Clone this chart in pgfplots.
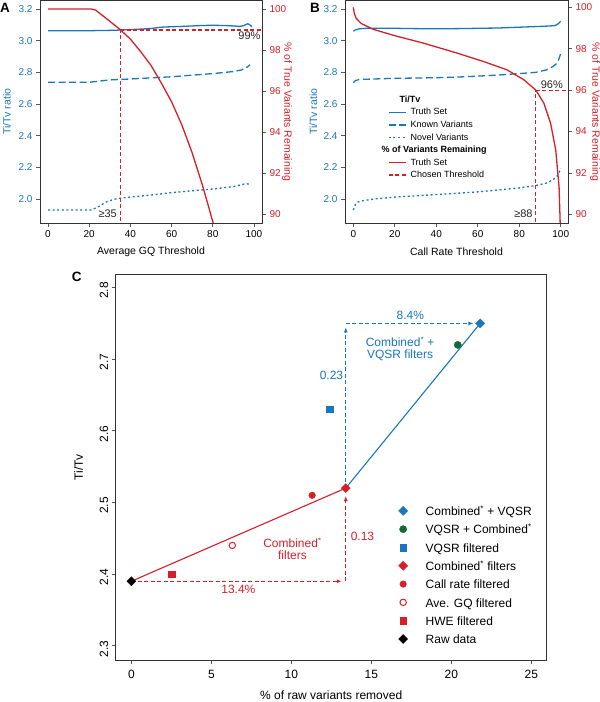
\documentclass[border=0pt]{standalone}
\usepackage{fontspec}
\setmainfont{Liberation Sans}
\usepackage{pgfplots}
\pgfplotsset{compat=1.18}
\usetikzlibrary{arrows.meta}
\definecolor{myblue}{RGB}{26,118,190}
\definecolor{myred}{RGB}{214,32,40}
\definecolor{mygreen}{RGB}{22,104,52}
\newcommand{\fs}[1]{\fontsize{#1}{#1}\selectfont}
\newcommand{\sast}{\textsuperscript{*}}
\pgfplotsset{
  panel/.style={scale only axis, anchor=south west,
    tick align=outside, major tick length=4pt,
    axis line style={black!80, line width=0.7pt},
    tick style={black!65, line width=0.7pt},
    /pgf/number format/assume math mode=true},
  tt/.style={myblue, line width=1.3pt},
  kv/.style={myblue, line width=1.3pt, dash pattern=on 7pt off 3.5pt},
  nv/.style={myblue, line width=1.3pt, dash pattern=on 2pt off 2.6pt},
  rt/.style={myred, line width=1.3pt},
  thr/.style={myred, line width=1.2pt, dash pattern=on 4pt off 2.5pt},
  arr/.style={line width=1.1pt, dash pattern=on 4pt off 2.5pt, -{Latex[length=5pt,width=4pt]}},
}
\begin{document}
\begin{tikzpicture}[x=1pt,y=1pt]
\useasboundingbox (0,0) rectangle (600,702);

% ================= Panel A =================
\begin{axis}[panel, at={(40pt,479pt)}, width=222pt, height=222.5pt,
  xmin=-3.9, xmax=103.9, ymin=1.8484, ymax=3.2537,
  tick pos=left,
  xtick={0,20,40,60,80,100}, ytick={2,2.2,2.4,2.6,2.8,3,3.2},
  xticklabel style={font=\fs{10}},
  xlabel={Average GQ Threshold},
  xlabel style={font=\fs{10.5}, at={(axis description cs:0.5,-0.129)}, anchor=center},
  ylabel={Ti/Tv ratio},
  ylabel style={font=\fs{10.5}, text=myblue, at={(axis description cs:-0.149,0.5)}, anchor=center},
  yticklabel style={font=\fs{10}, text=myblue, /pgf/number format/.cd, fixed, fixed zerofill, precision=1},
]
\addplot[tt] coordinates {(0,3.063) (10,3.063) (20,3.063) (30,3.065) (35,3.067) (40,3.070) (45,3.073) (50,3.077) (55,3.085) (60,3.088) (65,3.090) (70,3.093) (75,3.096) (80,3.097) (85,3.096) (90,3.093) (93,3.090) (95,3.095) (97,3.107) (98,3.100) (99,3.088)};
\addplot[kv] coordinates {(0,2.737) (20,2.737) (25,2.745) (30,2.752) (35,2.755) (40,2.758) (50,2.765) (60,2.772) (70,2.782) (80,2.792) (90,2.805) (94,2.815) (97,2.835) (98,2.848)};
\addplot[nv] coordinates {(0,1.930) (21,1.930) (25,1.955) (28,1.980) (32,1.998) (35,2.005) (40,2.012) (50,2.025) (60,2.040) (70,2.052) (80,2.063) (90,2.078) (96,2.097) (98,2.093)};
\end{axis}
\begin{axis}[panel, at={(40pt,479pt)}, width=222pt, height=222.5pt,
  xmin=-3.9, xmax=103.9, ymin=89.561, ymax=100.415,
  axis y line*=right, axis x line=none,
  ytick={90,92,94,96,98,100},
  yticklabel style={font=\fs{10}, text=myred},
  ylabel={\% of True Variants Remaining},
  ylabel style={font=\fs{10.5}, text=myred, at={(axis description cs:1.113,0.5)}, anchor=center, rotate=180},
]
\addplot[rt] coordinates {(0,100) (21,100) (23,99.95) (25,99.8) (30,99.4) (35,99.0) (40,98.53) (45,97.92) (50,97.25) (55,96.39) (60,95.47) (65,94.34) (70,92.98) (75,91.4) (80,89.63) (83,88.5)};
\addplot[thr] coordinates {(35,89) (35,98.98)};
\addplot[thr] coordinates {(35,98.98) (110,98.98)};
\node[font=\fs{11}, text=black!85] at (axis cs:97.8,98.68) {99\%};
\node[font=\fs{11}, text=black!85, anchor=east, inner sep=0pt] at (axis cs:33.5,90.03) {≥35};
\end{axis}

% ================= Panel B =================
\begin{axis}[panel, at={(345pt,479pt)}, width=223pt, height=222.5pt,
  xmin=-4.0, xmax=103.5, ymin=1.8484, ymax=3.2537,
  tick pos=left,
  xtick={0,20,40,60,80,100}, ytick={2,2.2,2.4,2.6,2.8,3,3.2},
  xticklabel style={font=\fs{10}},
  xlabel={Call Rate Threshold},
  xlabel style={font=\fs{10.5}, at={(axis description cs:0.5,-0.129)}, anchor=center},
  ylabel={Ti/Tv ratio},
  ylabel style={font=\fs{10.5}, text=myblue, at={(axis description cs:-0.142,0.5)}, anchor=center},
  legend style={at={(axis description cs:0.1928,0.572)}, anchor=north west, draw=none, fill=none, inner sep=0pt, font=\fs{9}, nodes={inner sep=0pt}, row sep=4.5pt},
  legend cell align=left,
  yticklabel style={font=\fs{10}, text=myblue, /pgf/number format/.cd, fixed, fixed zerofill, precision=1},
]
\addplot[tt, forget plot] coordinates {(0,3.060) (1,3.068) (3,3.075) (6,3.078) (10,3.078) (20,3.078) (30,3.076) (40,3.075) (50,3.076) (60,3.078) (70,3.080) (80,3.085) (90,3.090) (95,3.093) (97,3.095) (98,3.100) (99,3.110) (100,3.122)};
\addplot[kv, forget plot] coordinates {(0,2.735) (1,2.748) (3,2.755) (10,2.758) (20,2.762) (30,2.764) (40,2.766) (50,2.770) (60,2.776) (70,2.783) (80,2.792) (88,2.800) (93,2.815) (96,2.835) (98,2.855) (99,2.880) (100,2.920)};
\addplot[nv, forget plot] coordinates {(0,1.930) (1,1.965) (2,1.980) (5,1.990) (10,2.000) (20,2.012) (30,2.020) (40,2.028) (50,2.036) (60,2.045) (70,2.057) (80,2.070) (88,2.085) (93,2.100) (96,2.120) (98,2.140) (99,2.160) (100,2.195)};
\addlegendimage{empty legend}\addlegendentry{\hspace{-7pt}\textbf{Ti/Tv}}
\addlegendimage{tt}\addlegendentry{\hspace{4pt}Truth Set}
\addlegendimage{kv}\addlegendentry{\hspace{4pt}Known Variants}
\addlegendimage{nv}\addlegendentry{\hspace{4pt}Novel Variants}
\addlegendimage{empty legend}\addlegendentry{\hspace{-25pt}\textbf{\% of Variants Remaining}}
\addlegendimage{rt}\addlegendentry{\hspace{4pt}Truth Set}
\addlegendimage{thr}\addlegendentry{\hspace{4pt}Chosen Threshold}
\end{axis}
\begin{axis}[panel, at={(345pt,479pt)}, width=223pt, height=222.5pt,
  xmin=-4.0, xmax=103.5, ymin=89.58, ymax=100.33,
  axis y line*=right, axis x line=none,
  ytick={90,92,94,96,98,100},
  yticklabel style={font=\fs{10}, text=myred},
  ylabel={\% of True Variants Remaining},
  ylabel style={font=\fs{10.5}, text=myred, at={(axis description cs:1.121,0.5)}, anchor=center, rotate=180},
]
\addplot[rt] coordinates {(0,100) (0.5,99.7) (1.4,99.47) (3.8,99.22) (9.5,98.94) (20,98.63) (33.8,98.27) (50,97.79) (62.8,97.38) (74.1,96.98) (82.2,96.5) (88,96.0) (91.9,95.36) (95.1,94.4) (97.6,93.1) (99.2,91.3) (99.7,89.7) (100,88)};
\addplot[thr] coordinates {(88,89) (88,96)};
\addplot[thr] coordinates {(88,96) (110,96)};
\node[font=\fs{11}, text=black!85] at (axis cs:95.7,96.28) {96\%};
\node[font=\fs{11}, text=black!85, anchor=east, inner sep=0pt] at (axis cs:86.5,90.05) {≥88};
\end{axis}

% ================= Panel C =================
\begin{axis}[panel, at={(115.7pt,41.7pt)}, width=431pt, height=386.3pt,
  xmin=-0.98, xmax=25.96, ymin=2.2796, ymax=2.819,
  tick pos=left,
  xtick={0,5,10,15,20,25}, ytick={2.3,2.4,2.5,2.6,2.7,2.8},
  xticklabel style={font=\fs{12}, yshift=-2pt},
  xlabel={\% of raw variants removed},
  xlabel style={font=\fs{12}, at={(axis description cs:0.5,-0.091)}, anchor=center},
  ylabel={Ti/Tv},
  ylabel style={font=\fs{12}, at={(axis description cs:-0.086,0.5)}, anchor=center},
  legend style={at={(axis description cs:0.656,0.411)}, anchor=north west, draw=none, fill=none, inner sep=0pt, font=\fs{12}, nodes={inner sep=0pt, text height=13.8pt, text depth=4.5pt}, row sep=0pt, /tikz/every odd column/.append style={column sep=18pt}},
  legend cell align=left,
  yticklabel style={font=\fs{12}, rotate=90, anchor=south, xshift=-3pt, /pgf/number format/.cd, fixed, fixed zerofill, precision=1},
]
% lines and arrows
\addplot[forget plot, myred, line width=1.1pt] coordinates {(0,2.39) (13.4,2.52)};
\addplot[forget plot, myblue, line width=1.1pt] coordinates {(13.4,2.52) (21.8,2.75)};
\addplot[forget plot, myred, arr] coordinates {(0,2.39) (13.15,2.39)};
\addplot[forget plot, myred, arr] coordinates {(13.4,2.39) (13.4,2.509)};
\addplot[forget plot, myblue, arr] coordinates {(13.4,2.52) (13.4,2.7445)};
\addplot[forget plot, myblue, arr] coordinates {(13.4,2.75) (21.38,2.75)};
% points
\addplot[only marks, mark=square*, mark size=3.2pt, mark options={rotate=45, myblue, fill=myblue}] coordinates {(21.8,2.75)};
\addlegendentry{Combined\sast{} + VQSR}
\addplot[only marks, mark=*, mark size=3.6pt, mark options={mygreen, fill=mygreen}] coordinates {(20.4,2.72)};
\addlegendentry{VQSR + Combined\sast}
\addplot[only marks, mark=square*, mark size=3.3pt, mark options={myblue, fill=myblue}] coordinates {(12.38,2.63)};
\addlegendentry{VQSR filtered}
\addplot[only marks, mark=square*, mark size=3.2pt, mark options={rotate=45, myred, fill=myred}] coordinates {(13.4,2.52)};
\addlegendentry{Combined\sast{} filters}
\addplot[only marks, mark=*, mark size=3.3pt, mark options={myred, fill=myred}] coordinates {(11.3,2.51)};
\addlegendentry{Call rate filtered}
\addplot[only marks, mark=o, mark size=3.2pt, mark options={myred, line width=1pt, fill=white}] coordinates {(6.31,2.44)};
\addlegendentry{Ave. GQ filtered}
\addplot[only marks, mark=square*, mark size=3.3pt, mark options={myred, fill=myred}] coordinates {(2.52,2.40)};
\addlegendentry{HWE filtered}
\addplot[only marks, mark=square*, mark size=3.2pt, mark options={rotate=45, black, fill=black}] coordinates {(0,2.39)};
\addlegendentry{Raw data}
% annotations
\node[font=\fs{12}, text=myred] at (axis cs:6.69,2.378) {13.4\%};
\node[font=\fs{12}, text=myred, anchor=west, inner sep=0pt] at (axis cs:13.7,2.453) {0.13};
\node[font=\fs{12}, text=myred, align=center, inner sep=0pt] at (axis cs:10.07,2.435) {Combined\sast\\filters};
\node[font=\fs{12}, text=myblue, anchor=east, inner sep=0pt] at (axis cs:13.25,2.678) {0.23};
\node[font=\fs{12}, text=myblue] at (axis cs:17.44,2.7617) {8.4\%};
\node[font=\fs{12}, text=myblue, align=center, inner sep=0pt] at (axis cs:16.8,2.7145) {Combined\sast{} +\\VQSR filters};
\end{axis}

% panel letters
\node[font=\fs{13.5}\bfseries] at (5,694) {A};
\node[font=\fs{13.5}\bfseries] at (315,694) {B};
\node[font=\fs{13.5}\bfseries] at (76.7,425) {C};
\end{tikzpicture}
\end{document}
